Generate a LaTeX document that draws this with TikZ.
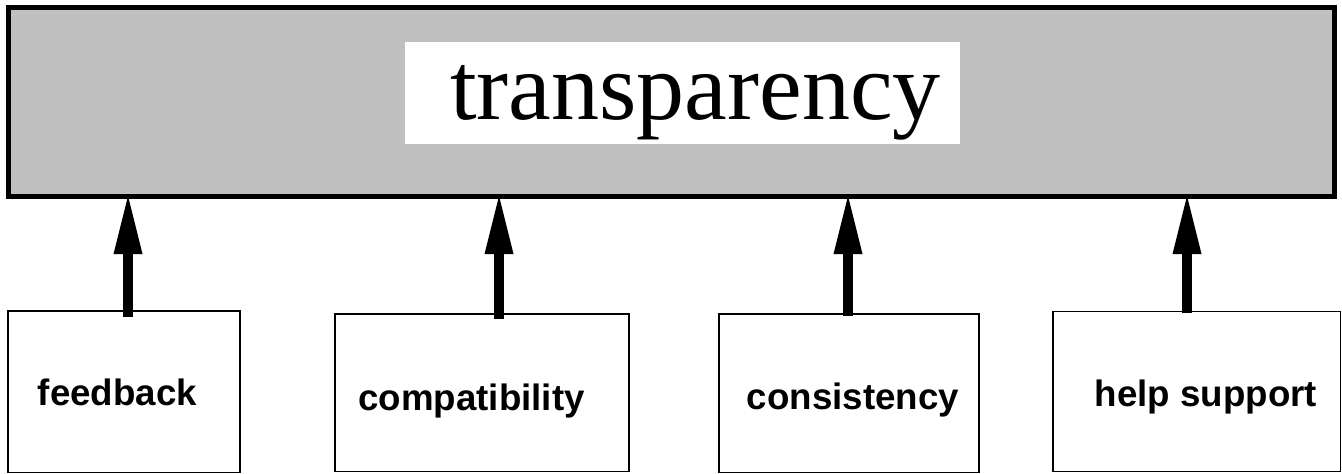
\documentclass[tikz,border=0pt]{standalone}
\usepackage{fontspec}
\setmainfont{Liberation Serif}
\newfontfamily\hvfont{Liberation Sans}
\usetikzlibrary{arrows.meta}
\definecolor{panelgray}{RGB}{192,192,192}
\tikzset{
  topbox/.style={draw=black, line width=5pt, fill=panelgray, inner sep=0pt, outer sep=0pt},
  namebox/.style={fill=white, draw=none, inner sep=0pt},
  factorbox/.style={draw=black, line width=1.6pt, fill=white, inner sep=0pt, outer sep=0pt},
  bigtitle/.style={inner sep=0pt, anchor=base, font=\fontsize{96}{100}\selectfont},
  factorlabel/.style={inner sep=0pt, anchor=base, font=\hvfont\bfseries\fontsize{36.7}{40}\selectfont},
  uparrow/.style={line width=10pt, -{Triangle[length=58pt,width=29pt,line width=0pt]}}
}
\begin{document}
\begin{tikzpicture}[x=1pt,y=-1pt]
\useasboundingbox (0,0) rectangle (1342,474);
% top panel
\node[topbox, minimum width=1326pt, minimum height=189pt] (top) at (671,101.5) {};
\node[namebox, minimum width=555pt, minimum height=102pt] (tbox) at (682.5,93) {};
\node[bigtitle] (title) at (695.5,119) {transparency};
% factor boxes
\node[factorbox, minimum width=232pt, minimum height=161.5pt] (fb) at (124,391.75) {};
\node[factorbox, minimum width=294pt, minimum height=157.5pt] (cp) at (482,392.75) {};
\node[factorbox, minimum width=260pt, minimum height=158.5pt] (cs) at (849,393.25) {};
\node[factorbox, minimum width=287.5pt, minimum height=160pt] (hs) at (1196.75,391.5) {};
% labels
\node[factorlabel] (fbt) at (117.5,405) {feedback};
\node[factorlabel] (cpt) at (471.5,410) {compatibility};
\node[factorlabel] (cst) at (853,409) {consistency};
\node[factorlabel] (hst) at (1206,406) {help support};
% arrows
\draw[uparrow] ([xshift=4pt,yshift=-5.7pt]fb.north) -- ([xshift=4pt]fb.north |- top.south);
\draw[uparrow] ([xshift=17pt,yshift=-5pt]cp.north) -- ([xshift=17pt]cp.north |- top.south);
\draw[uparrow] ([xshift=-1pt,yshift=-2pt]cs.north) -- ([xshift=-1pt]cs.north |- top.south);
\draw[uparrow] ([xshift=-9.75pt,yshift=-1.5pt]hs.north) -- ([xshift=-9.75pt]hs.north |- top.south);
\end{tikzpicture}
\end{document}
